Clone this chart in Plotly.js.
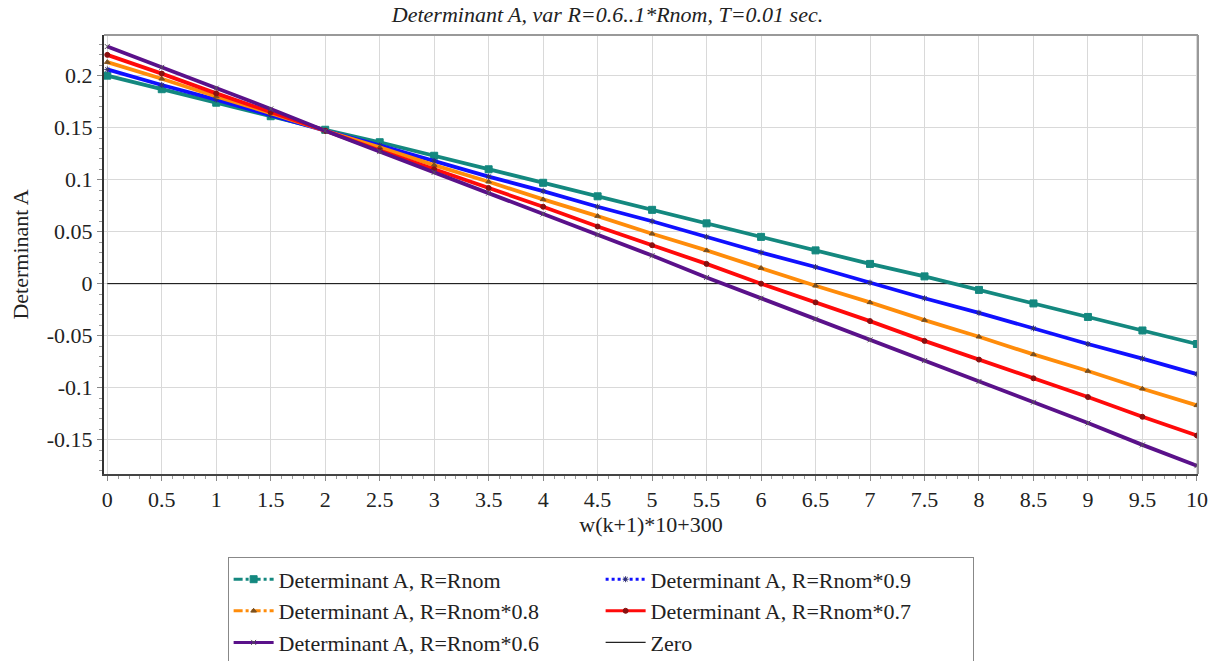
<!DOCTYPE html>
<html>
<head>
<meta charset="utf-8">
<script src="https://cdn.plot.ly/plotly-3.0.1.min.js"></script>
<style>html,body{margin:0;padding:0;background:#fff;}#chart{width:1215px;height:661px;}</style>
</head>
<body>
<div id="chart"></div>
<script>
const xValues = [0,0.5,1,1.5,2,2.5,3,3.5,4,4.5,5,5.5,6,6.5,7,7.5,8,8.5,9,9.5,10];
const rNom   = [0.200,0.187,0.174,0.161,0.148,0.136,0.123,0.110,0.097,0.084,0.071,0.058,0.045,0.032,0.019,0.007,-0.006,-0.019,-0.032,-0.045,-0.058];
const rNom09 = [0.206,0.191,0.177,0.162,0.147,0.133,0.118,0.103,0.089,0.074,0.060,0.045,0.030,0.016,0.001,-0.014,-0.028,-0.043,-0.058,-0.072,-0.087];
const rNom08 = [0.213,0.197,0.180,0.164,0.147,0.131,0.114,0.098,0.081,0.065,0.048,0.032,0.015,-0.002,-0.018,-0.035,-0.051,-0.068,-0.084,-0.101,-0.117];
const rNom07 = [0.220,0.202,0.183,0.165,0.147,0.128,0.110,0.092,0.074,0.055,0.037,0.019,0.000,-0.018,-0.036,-0.055,-0.073,-0.091,-0.109,-0.128,-0.146];
const rNom06 = [0.228,0.208,0.188,0.168,0.147,0.127,0.107,0.087,0.067,0.047,0.027,0.006,-0.014,-0.034,-0.054,-0.074,-0.094,-0.114,-0.134,-0.155,-0.175];
const zeroX = [0,10];
const zeroY = [0,0];
const seriesNames = ["Determinant A, R=Rnom","Determinant A, R=Rnom*0.9","Determinant A, R=Rnom*0.8","Determinant A, R=Rnom*0.7","Determinant A, R=Rnom*0.6","Zero"];
const xTickVals = [0,0.5,1,1.5,2,2.5,3,3.5,4,4.5,5,5.5,6,6.5,7,7.5,8,8.5,9,9.5,10];
const xTickText = ["0","0.5","1","1.5","2","2.5","3","3.5","4","4.5","5","5.5","6","6.5","7","7.5","8","8.5","9","9.5","10"];
const yTickVals = [-0.15,-0.1,-0.05,0,0.05,0.1,0.15,0.2];
const yTickText = ["-0.15","-0.1","-0.05","0","0.05","0.1","0.15","0.2"];

const styles = [
  {color:'#14887f', symbol:'square', size:7, mcolor:'#14887f', dash:'dashdot'},
  {color:'#1010ff', symbol:'asterisk-open', size:5, mcolor:'#333366', dash:'dot'},
  {color:'#ff8c0a', symbol:'triangle-up', size:5, mcolor:'#7a5020', dash:'dashdot'},
  {color:'#ff0a0a', symbol:'circle', size:5, mcolor:'#8a1010', dash:'solid'},
  {color:'#5a118a', symbol:'x-thin-open', size:5, mcolor:'#555555', dash:'solid'}
];
const ySeries = [rNom, rNom09, rNom08, rNom07, rNom06];

const traces = [];
traces.push({x:zeroX, y:zeroY, mode:'lines', line:{color:'#000', width:1}, showlegend:false, hoverinfo:'skip'});
ySeries.forEach((ys,i)=>{
  const s = styles[i];
  traces.push({
    x:xValues, y:ys, mode:'lines+markers', name:seriesNames[i], showlegend:false,
    line:{color:s.color, width:3.8},
    marker:{symbol:s.symbol, size:s.size, color:s.mcolor, line:{color:s.mcolor, width:1}}
  });
});
[0,1,2,3,4].forEach(i=>{
  const s = styles[i];
  traces.push({
    x:[null], y:[null], mode:'lines+markers', name:seriesNames[i], legendrank:i+1,
    line:{color:s.color, width:3, dash:s.dash},
    marker:{symbol:s.symbol, size:s.size, color:s.mcolor, line:{color:s.mcolor, width:1}}
  });
});
traces.push({x:[null], y:[null], mode:'lines', name:seriesNames[5], legendrank:6, line:{color:'#222', width:1.2}});

const fontFam = 'Liberation Serif, serif';
const layout = {
  width:1215, height:661,
  margin:{l:104, r:17, t:35, b:187, autoexpand:false},
  paper_bgcolor:'#fff', plot_bgcolor:'#fff',
  font:{family:fontFam, size:22, color:'#222'},
  title:{text:'<i>Determinant A, var R=0.6..1*Rnom, T=0.01 sec.</i>', font:{family:fontFam, size:22, color:'#222'}, x:0.5, xanchor:'center', y:0.99, yanchor:'top'},
  xaxis:{
    range:[-0.03,10.01], tickmode:'array', tickvals:xTickVals, ticktext:xTickText,
    showgrid:true, gridcolor:'#d9d9d9', gridwidth:1,
    zeroline:false, showline:true, linecolor:'#444', linewidth:2,
    ticks:'outside', ticklen:5, tickcolor:'#888',
    minor:{dtick:0.1, tick0:0, ticks:'outside', ticklen:3, tickcolor:'#999', showgrid:false},
    tickfont:{family:fontFam, size:22, color:'#222'},
    title:{text:'w(k+1)*10+300', font:{family:fontFam, size:22, color:'#222'}, standoff:2}
  },
  yaxis:{
    range:[-0.183,0.2391], tickmode:'array', tickvals:yTickVals, ticktext:yTickText,
    showgrid:true, gridcolor:'#d9d9d9', gridwidth:1,
    zeroline:false, showline:true, linecolor:'#333', linewidth:2,
    ticks:'outside', ticklen:5, tickcolor:'#888',
    minor:{dtick:0.01, tick0:0, ticks:'outside', ticklen:3, tickcolor:'#999', showgrid:false},
    tickfont:{family:fontFam, size:22, color:'#222'},
    title:{text:'Determinant A', font:{family:fontFam, size:22, color:'#222'}, standoff:12}
  },
  shapes:[
    {type:'line', xref:'paper', yref:'paper', x0:0, x1:1, y0:1, y1:1, line:{color:'#999', width:2}},
    {type:'line', xref:'paper', yref:'paper', x0:1, x1:1, y0:0, y1:1, line:{color:'#999', width:2}}
  ],
  legend:{
    orientation:'h', x:0.113, xanchor:'left', y:-0.19, yanchor:'top',
    bordercolor:'#888', borderwidth:1, bgcolor:'#fff',
    font:{family:fontFam, size:22, color:'#222'},
    entrywidth:317, entrywidthmode:'pixels', itemwidth:40, tracegroupgap:0
  },
  showlegend:true
};
Plotly.newPlot('chart', traces, layout, {displayModeBar:false, staticPlot:true});
</script>
</body>
</html>
